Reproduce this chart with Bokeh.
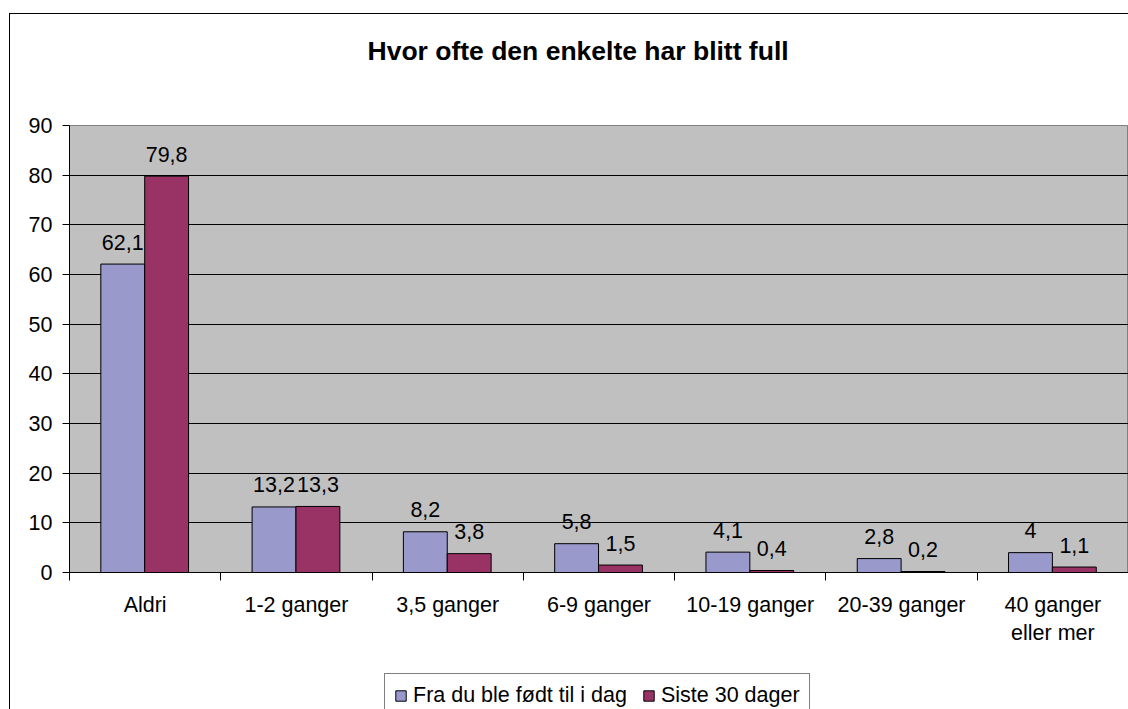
from bokeh.plotting import figure
from bokeh.layouts import column
from bokeh.models import (ColumnDataSource, FactorRange, Range1d, LinearAxis, CategoricalAxis,
                          FixedTicker, Legend, LegendItem, Label, InlineStyleSheet)
from bokeh.transform import dodge
from bokeh.core.properties import value
from bokeh.embed import file_html
from bokeh.resources import INLINE

# ---- data ----
categories = ["Aldri", "1-2 ganger", "3,5 ganger", "6-9 ganger", "10-19 ganger",
              "20-39 ganger", "40 ganger\neller mer"]
fra_du_ble_fodt = [62.1, 13.2, 8.2, 5.8, 4.1, 2.8, 4.0]
siste_30_dager = [79.8, 13.3, 3.8, 1.5, 0.4, 0.2, 1.1]
series_names = ["Fra du ble født til i dag", "Siste 30 dager"]
series_colors = ["#9999CC", "#993366"]
y_ticks = [0, 10, 20, 30, 40, 50, 60, 70, 80, 90]
title_text = "Hvor ofte den enkelte har blitt full"

def fmt(v):
    return ("%g" % v).replace(".", ",")

src = ColumnDataSource(dict(
    cat=categories,
    fra=fra_du_ble_fodt,
    siste=siste_30_dager,
    fra_lbl=[fmt(v) for v in fra_du_ble_fodt],
    siste_lbl=[fmt(v) for v in siste_30_dager],
))

FONT = "Liberation Sans"
FS = "21.5px"
W = 1128
LEFT = 69   # frame left edge (frames are aligned by the column layout)

# ---------- header (title) ----------
p0 = figure(width=W, height=100, output_backend="svg", toolbar_location=None,
            x_range=Range1d(LEFT, W), y_range=Range1d(0, 100),
            x_axis_location=None, y_axis_location=None,
            min_border_left=LEFT, min_border_right=0, min_border_top=0, min_border_bottom=0)
p0.outline_line_color = None
p0.grid.visible = False
p0.background_fill_color = "white"
p0.border_fill_color = "white"
p0.add_layout(Label(x=367, y=50, text=title_text, text_align="left", text_baseline="alphabetic",
                    text_font=FONT, text_font_size="26.5px", text_font_style="bold",
                    text_color="black"))

# ---------- main chart ----------
p = figure(width=W, height=560, output_backend="svg", toolbar_location=None,
           x_range=FactorRange(*categories, range_padding=0),
           y_range=Range1d(0, 90),
           x_axis_location=None, y_axis_location=None,
           min_border_left=LEFT, min_border_right=0, min_border_top=25, min_border_bottom=88)

p.background_fill_color = "#C0C0C0"
p.border_fill_color = "white"
p.outline_line_color = "#808080"
p.xgrid.visible = False
p.ygrid.ticker = FixedTicker(ticks=y_ticks[1:-1])
p.ygrid.grid_line_color = "black"
p.ygrid.grid_line_width = 1

yax = LinearAxis(ticker=FixedTicker(ticks=y_ticks),
                 major_tick_out=7, major_tick_in=0, minor_tick_line_color=None,
                 major_label_standoff=10, axis_line_color="black",
                 major_label_text_font=FONT, major_label_text_font_size=FS,
                 major_label_text_color="black")
p.add_layout(yax, "left")

# ticks on category boundaries (synthetic coordinates 0..7), then the category labels
edge_ax = LinearAxis(ticker=FixedTicker(ticks=[], minor_ticks=list(range(len(categories) + 1))),
                     major_tick_out=0, major_tick_in=0, major_tick_line_color=None,
                     minor_tick_out=8, minor_tick_in=0, minor_tick_line_color="black",
                     major_label_standoff=0, axis_line_color="black")
p.add_layout(edge_ax, "below")
cat_ax = CategoricalAxis(major_tick_line_color=None, major_tick_out=0, major_tick_in=0,
                         axis_line_color=None, major_label_standoff=12,
                         major_label_text_font=FONT, major_label_text_font_size=FS,
                         major_label_text_color="black")
p.add_layout(cat_ax, "below")

BW = 0.29
r1 = p.vbar(x=dodge("cat", -0.148, range=p.x_range), top="fra", width=BW, bottom=0, source=src,
            fill_color=series_colors[0], line_color="black", line_width=1)
r2 = p.vbar(x=dodge("cat", 0.142, range=p.x_range), top="siste", width=BW, bottom=0, source=src,
            fill_color=series_colors[1], line_color="black", line_width=1)

p.text(x=dodge("cat", -0.148, range=p.x_range), y="fra", text="fra_lbl", source=src,
       text_align="center", text_baseline="alphabetic", y_offset=-22,
       text_font=value(FONT), text_font_size=FS, text_color="black")
p.text(x=dodge("cat", 0.142, range=p.x_range), y="siste", text="siste_lbl", source=src,
       text_align="center", text_baseline="alphabetic", y_offset=-22,
       text_font=value(FONT), text_font_size=FS, text_color="black")

# ---------- legend strip ----------
p2 = figure(width=W, height=49, output_backend="svg", toolbar_location=None,
            x_range=Range1d(0, 1), y_range=Range1d(0, 1),
            x_axis_location=None, y_axis_location=None,
            min_border_left=LEFT, min_border_right=0, min_border_top=0, min_border_bottom=0)
p2.outline_line_color = None
p2.grid.visible = False
p2.background_fill_color = "white"
p2.border_fill_color = "white"
# legend swatch renderers (one point each, outside the strip's visible range)
swatch = ColumnDataSource(dict(x=[5.0], top=[5.0]))
g1 = p2.vbar(x="x", top="top", width=0.1, source=swatch,
             fill_color=series_colors[0], line_color="black", line_width=1)
g2 = p2.vbar(x="x", top="top", width=0.1, source=swatch,
             fill_color=series_colors[1], line_color="black", line_width=1)
legend = Legend(items=[LegendItem(label=series_names[0], renderers=[g1]),
                       LegendItem(label=series_names[1], renderers=[g2])],
                orientation="horizontal", location=(384 - LEFT, -9),
                glyph_width=13, glyph_height=13, label_standoff=6, spacing=15,
                padding=9, margin=0, label_height=20,
                label_text_font=FONT, label_text_font_size=FS, label_text_color="black",
                border_line_color="black", border_line_width=1,
                background_fill_color="white", background_fill_alpha=1)
p2.add_layout(legend, "center")

layout = column(p0, p, p2, spacing=0)
layout.stylesheets = [InlineStyleSheet(css="""
:host::after { content: ""; position: absolute; left: 9px; top: 13px; width: 1400px; height: 1000px;
  border: 1px solid #000; pointer-events: none; box-sizing: border-box; }
""")]

open("out.html", "w").write(file_html(layout, INLINE))
